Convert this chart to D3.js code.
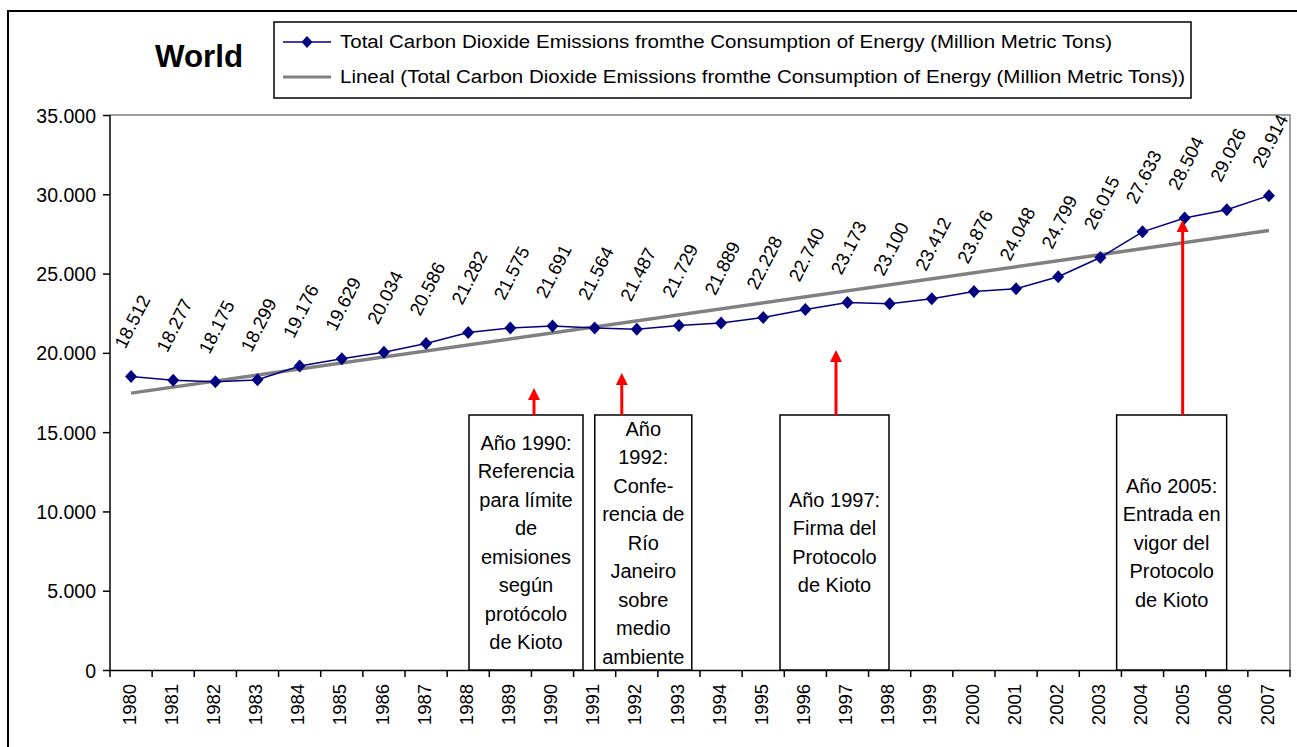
<!DOCTYPE html>
<html>
<head>
<meta charset="utf-8">
<script src="https://cdn.jsdelivr.net/npm/d3@7"></script>
<style>
  body { margin: 0; background: #fff; }
  svg { display: block; }
  text { font-family: Arial, "Liberation Sans", sans-serif; fill: #000; }
</style>
</head>
<body>
<svg id="chart" width="1297" height="747"></svg>
<script>
// World CO2 emissions from energy consumption (million metric tons)
const years = ["1980","1981","1982","1983","1984","1985","1986","1987","1988","1989",
               "1990","1991","1992","1993","1994","1995","1996","1997","1998","1999",
               "2000","2001","2002","2003","2004","2005","2006","2007"];
const emissions = [18512, 18277, 18175, 18299, 19176, 19629, 20034, 20586, 21282, 21575,
                   21691, 21564, 21487, 21729, 21889, 22228, 22740, 23173, 23100, 23412,
                   23876, 24048, 24799, 26015, 27633, 28504, 29026, 29914];
// Linear trend line end points
const trendYears = ["1980", "2007"];
const trendValues = [17460, 27710];
const yTicks = [0, 5000, 10000, 15000, 20000, 25000, 30000, 35000];
const chartTitle = "World";
const legendLabels = [
  "Total Carbon Dioxide Emissions fromthe Consumption of Energy (Million Metric Tons)",
  "Lineal (Total Carbon Dioxide Emissions fromthe Consumption of Energy (Million Metric Tons))"
];
// Milestones: year, value the arrow points at, text lines
const noteYears = ["1990", "1992", "1997", "2005"];
const noteArrowValues = [17780, 18730, 20180, 28380];
const noteLines = [
  ["Año 1990:", "Referencia", "para límite", "de", "emisiones", "según", "protócolo", "de Kioto"],
  ["Año", "1992:", "Confe-", "rencia de", "Río", "Janeiro", "sobre", "medio", "ambiente"],
  ["Año 1997:", "Firma del", "Protocolo", "de Kioto"],
  ["Año 2005:", "Entrada en", "vigor del", "Protocolo", "de Kioto"]
];

const svg = d3.select("#chart");
const W = 1297, H = 747;
const plot = { left: 110, right: 1290, top: 115, bottom: 670 };

const es = d3.formatLocale({ decimal: ",", thousands: ".", grouping: [3], currency: ["", "€"] });
const fmt = es.format(",");

const x = d3.scaleBand().domain(years).range([plot.left, plot.right]);
const cx = d => x(d) + x.bandwidth() / 2;
const y = d3.scaleLinear().domain([0, 35000]).range([plot.bottom, plot.top]);

// Outer chart frame
svg.append("rect").attr("x", 8).attr("y", 11).attr("width", W + 20).attr("height", H + 20)
  .attr("fill", "none").attr("stroke", "#000").attr("stroke-width", 2);

// Plot area border (top and right)
svg.append("path")
  .attr("d", `M${plot.left},${plot.top}H${plot.right}V${plot.bottom}`)
  .attr("fill", "none").attr("stroke", "#808080").attr("stroke-width", 1.5);

// Title
svg.append("text").attr("x", 155).attr("y", 67)
  .attr("font-size", 31).attr("font-weight", "bold")
  .attr("textLength", 88).attr("lengthAdjust", "spacingAndGlyphs")
  .text(chartTitle);

// Legend
const lg = svg.append("g");
lg.append("rect").attr("x", 274).attr("y", 22).attr("width", 917).attr("height", 76)
  .attr("fill", "#fff").attr("stroke", "#000").attr("stroke-width", 1.5);
lg.append("line").attr("x1", 283).attr("x2", 331).attr("y1", 42).attr("y2", 42)
  .attr("stroke", "#000080").attr("stroke-width", 1.5);
lg.append("path").attr("transform", "translate(307,42)")
  .attr("d", "M0,-6L5.5,0L0,6L-5.5,0Z").attr("fill", "#000080");
lg.append("line").attr("x1", 283).attr("x2", 331).attr("y1", 77).attr("y2", 77)
  .attr("stroke", "#808080").attr("stroke-width", 3);
[[legendLabels[0], 48, 772], [legendLabels[1], 83, 845]].forEach(([t, yy, len]) => {
  lg.append("text").attr("x", 340).attr("y", yy).attr("font-size", 18)
    .attr("textLength", len).attr("lengthAdjust", "spacingAndGlyphs").text(t);
});

// Y axis
const yAxis = svg.append("g").attr("transform", `translate(${plot.left},0)`)
  .call(d3.axisLeft(y).tickValues(yTicks).tickFormat(fmt).tickSize(7).tickSizeOuter(0));
yAxis.selectAll("line").attr("stroke", "#000").attr("stroke-width", 1.5);
yAxis.selectAll("text").attr("font-size", 19.5).attr("x", -14).attr("dy", "0.36em")
  .attr("font-family", "Arial, 'Liberation Sans', sans-serif");
yAxis.select(".domain").remove();
svg.append("line").attr("x1", plot.left).attr("x2", plot.left).attr("y1", plot.top).attr("y2", plot.bottom)
  .attr("stroke", "#000").attr("stroke-width", 1.5);

// X axis: ticks between categories, rotated year labels
const xAxis = svg.append("g").attr("transform", `translate(0,${plot.bottom})`)
  .call(d3.axisBottom(x).tickSize(0).tickSizeOuter(0));
xAxis.select(".domain").attr("stroke", "#000").attr("stroke-width", 1.5);
xAxis.selectAll(".tick text")
  .attr("font-size", 18.5).attr("font-family", "Arial, 'Liberation Sans', sans-serif")
  .attr("text-anchor", "end").attr("transform", "rotate(-90)")
  .attr("x", -14).attr("y", -2).attr("dy", "0.36em");
const edges = years.map(d => x(d)).concat([plot.right]);
xAxis.selectAll(".edge").data(edges).join("line").attr("class", "edge")
  .attr("x1", d => d).attr("x2", d => d).attr("y1", 0).attr("y2", 7)
  .attr("stroke", "#000").attr("stroke-width", 1.5);

// Trend line
svg.append("line")
  .attr("x1", cx(trendYears[0])).attr("y1", y(trendValues[0]))
  .attr("x2", cx(trendYears[1])).attr("y2", y(trendValues[1]))
  .attr("stroke", "#808080").attr("stroke-width", 3.5);

// Emissions series
const pts = years.map((d, i) => ({ year: d, v: emissions[i] }));
svg.append("path").datum(pts)
  .attr("d", d3.line().x(d => cx(d.year)).y(d => y(d.v)))
  .attr("fill", "none").attr("stroke", "#000080").attr("stroke-width", 1.5);
svg.selectAll(".mk").data(pts).join("path").attr("class", "mk")
  .attr("transform", d => `translate(${cx(d.year)},${y(d.v)})`)
  .attr("d", "M0,-6.5L6,0L0,6.5L-6,0Z").attr("fill", "#000080");

// Value labels
svg.selectAll(".vl").data(pts).join("text").attr("class", "vl")
  .attr("transform", d => `translate(${cx(d.year) + 1},${y(d.v) - 55}) rotate(-63)`)
  .attr("text-anchor", "middle").attr("dy", "0.36em").attr("font-size", 18.5)
  .text(d => fmt(d.v));

// Milestone boxes with arrows (offsets from category centre: left, right, arrow)
const noteLayout = [[-83.5, 30.5, -18.5], [-42, 55, -15], [-67.5, 41.5, -11.5], [-68, 42, -2]];
const boxTop = 415, lineGap = 28.5;
noteYears.forEach((yr, i) => {
  const c = cx(yr);
  const [l, r, a] = noteLayout[i];
  const g = svg.append("g");
  g.append("rect").attr("x", c + l).attr("y", boxTop)
    .attr("width", r - l).attr("height", plot.bottom - boxTop)
    .attr("fill", "#fff").attr("stroke", "#000").attr("stroke-width", 1.5);
  const mid = (c + l + c + r) / 2;
  const lines = noteLines[i];
  const y0 = (boxTop + plot.bottom) / 2 - (lines.length - 1) * lineGap / 2;
  lines.forEach((t, j) => {
    g.append("text").attr("x", mid).attr("y", y0 + j * lineGap).attr("dy", "0.36em")
      .attr("text-anchor", "middle").attr("font-size", 20).text(t);
  });
  const ax = c + a, tip = y(noteArrowValues[i]);
  g.append("line").attr("x1", ax).attr("x2", ax).attr("y1", boxTop).attr("y2", tip + 10)
    .attr("stroke", "#ff0000").attr("stroke-width", 3);
  g.append("path").attr("d", `M${ax},${tip}L${ax + 6},${tip + 12}L${ax - 6},${tip + 12}Z`)
    .attr("fill", "#ff0000");
});
</script>
</body>
</html>
